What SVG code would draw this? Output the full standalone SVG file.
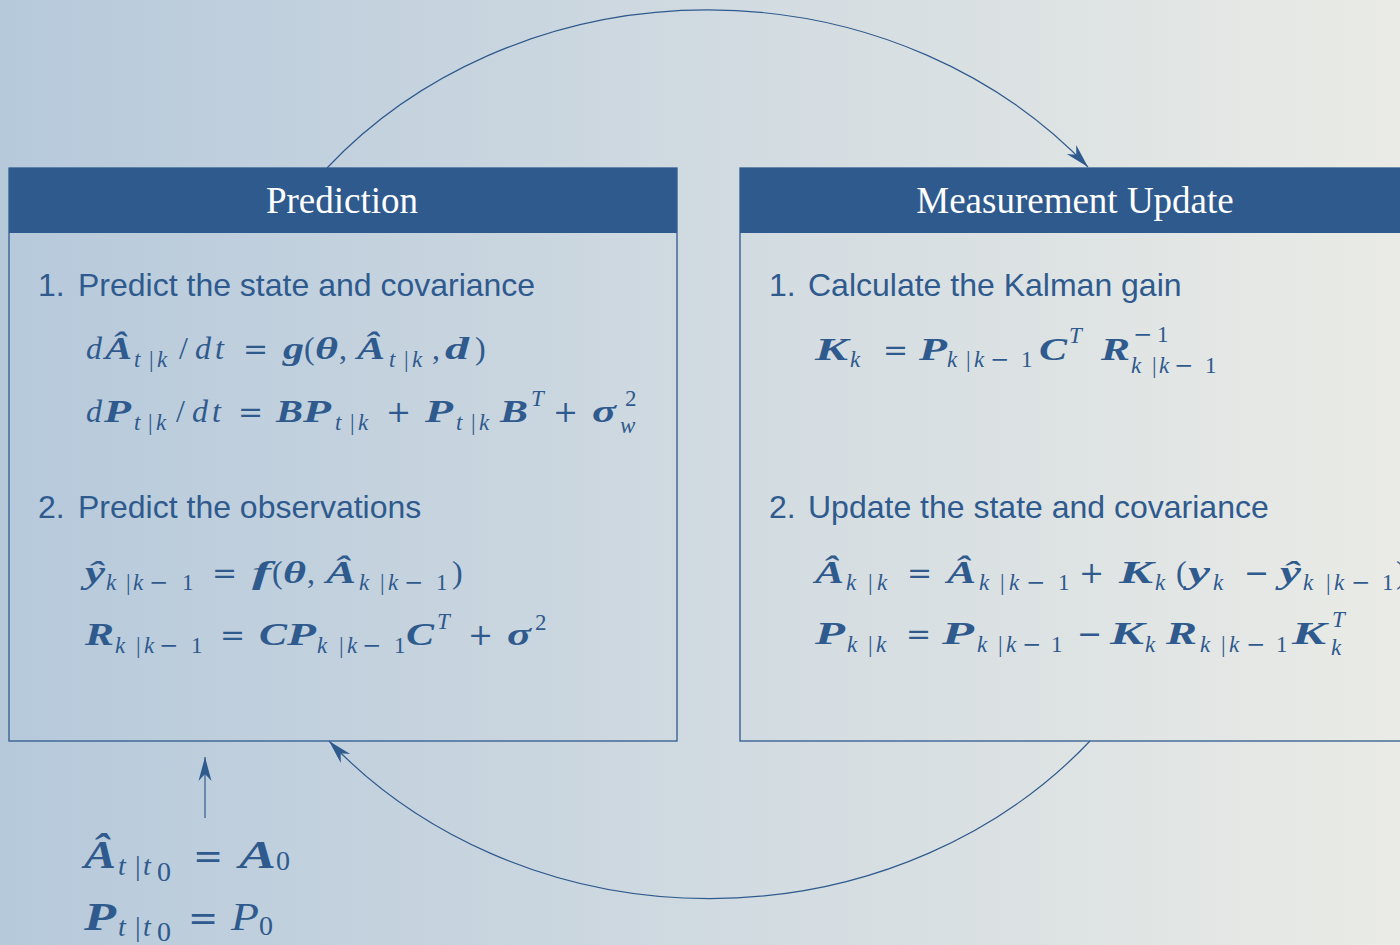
<svg xmlns="http://www.w3.org/2000/svg" width="1400" height="945" viewBox="0 0 1400 945">
<defs>
<linearGradient id="bg" x1="0" y1="0" x2="1" y2="0">
<stop offset="0" stop-color="#b6c9db"/>
<stop offset="1" stop-color="#eaebe6"/>
</linearGradient>
<marker id="arr" viewBox="-26 -8 28 16" refX="0" refY="0" markerWidth="28" markerHeight="16" markerUnits="userSpaceOnUse" orient="auto">
<path d="M0,0 L-24,-6.5 L-17,0 L-24,6.5 Z" fill="#2f5a8e"/>
</marker>
<style>
.box{fill:none;stroke:#2f5a8e;stroke-width:1.3}
.hdr{fill:#2f5a8e}
.ht{font-family:"Liberation Serif",serif;font-size:37px;fill:#ffffff;text-anchor:middle}
.lt{font-family:"Liberation Sans",Arial,sans-serif;font-size:32px;fill:#2f5a8e}
.m{font-family:"Liberation Serif",serif;font-size:32px;fill:#2f5a8e}
.mb{font-family:"Liberation Serif",serif;font-size:40px;fill:#2f5a8e}
.bi{font-weight:bold;font-style:italic}
.it{font-style:italic}
.s{font-size:23px}
.s2{font-size:28px}
.op{font-family:"DejaVu Serif",serif;font-size:30px}
.opb{font-family:"DejaVu Serif",serif;font-size:36px}
.so{font-family:"DejaVu Serif",serif;font-size:23px}
.con{fill:none;stroke:#2f5a8e;stroke-width:1.2;marker-end:url(#arr)}
</style>
</defs>
<rect x="0" y="0" width="1400" height="945" fill="url(#bg)"/>

<g id="connectors">
<path class="con" d="M 327 168 A 498 444 0 0 1 1088 167"/>
<path class="con" d="M 1090 741 A 498 444 0 0 1 329 741"/>
<path class="con" d="M 205 818 L 205 757"/>
</g>

<g id="node-prediction">
<rect class="box" x="9" y="168" width="668" height="573"/>
<rect class="hdr" x="9" y="168" width="668" height="65"/>
<text class="ht" x="342" y="213">Prediction</text>
<text class="lt" y="296"><tspan x="38">1.</tspan><tspan x="78">Predict the state and covariance</tspan></text>
<text class="m" y="359"><tspan class="it" x="86">d</tspan><tspan class="bi" x="105" textLength="27" lengthAdjust="spacingAndGlyphs">Â</tspan><tspan class="s it" x="134" y="367">t</tspan><tspan class="s" x="149" y="367">|</tspan><tspan class="s it" x="157" y="367">k</tspan><tspan x="179" y="359">/</tspan><tspan class="it" x="195">d</tspan><tspan class="it" x="215">t</tspan><tspan class="op" x="243">=</tspan><tspan class="bi" x="283" textLength="21" lengthAdjust="spacingAndGlyphs">g</tspan><tspan x="304">(</tspan><tspan class="bi" x="315" textLength="23" lengthAdjust="spacingAndGlyphs">θ</tspan><tspan x="339">,</tspan><tspan class="bi" x="357" textLength="28" lengthAdjust="spacingAndGlyphs">Â</tspan><tspan class="s it" x="389" y="367">t</tspan><tspan class="s" x="404" y="367">|</tspan><tspan class="s it" x="412" y="367">k</tspan><tspan x="432" y="359">,</tspan><tspan class="bi" x="445" textLength="24" lengthAdjust="spacingAndGlyphs">d</tspan><tspan x="475">)</tspan></text>
<text class="m" y="422"><tspan class="it" x="86">d</tspan><tspan class="bi" x="104" textLength="27" lengthAdjust="spacingAndGlyphs">P</tspan><tspan class="s it" x="134" y="430">t</tspan><tspan class="s" x="148" y="430">|</tspan><tspan class="s it" x="156" y="430">k</tspan><tspan x="176" y="422">/</tspan><tspan class="it" x="192">d</tspan><tspan class="it" x="212">t</tspan><tspan class="op" x="238">=</tspan><tspan class="bi" x="276" textLength="27" lengthAdjust="spacingAndGlyphs">B</tspan><tspan class="bi" x="303" textLength="28" lengthAdjust="spacingAndGlyphs">P</tspan><tspan class="s it" x="335" y="430">t</tspan><tspan class="s" x="350" y="430">|</tspan><tspan class="s it" x="358" y="430">k</tspan><tspan class="op" x="386" y="422">+</tspan><tspan class="bi" x="425" textLength="28" lengthAdjust="spacingAndGlyphs">P</tspan><tspan class="s it" x="456" y="430">t</tspan><tspan class="s" x="471" y="430">|</tspan><tspan class="s it" x="479" y="430">k</tspan><tspan class="bi" x="500" y="422" textLength="28" lengthAdjust="spacingAndGlyphs">B</tspan><tspan class="s it" x="531" y="406">T</tspan><tspan class="op" x="553" y="422">+</tspan><tspan class="bi" x="592" textLength="24" lengthAdjust="spacingAndGlyphs">σ</tspan><tspan class="s" x="625" y="406">2</tspan><tspan class="s it" x="620" y="433">w</tspan></text>
<text class="lt" y="518"><tspan x="38">2.</tspan><tspan x="78">Predict the observations</tspan></text>
<text class="m" y="583"><tspan class="bi" x="85" textLength="20" lengthAdjust="spacingAndGlyphs">ŷ</tspan><tspan class="s it" x="106" y="590">k</tspan><tspan class="s" x="126" y="590">|</tspan><tspan class="s it" x="133" y="590">k</tspan><tspan class="so" x="149" y="590">−</tspan><tspan class="s" x="182" y="590">1</tspan><tspan class="op" x="212" y="583">=</tspan><tspan class="bi" x="252" textLength="19" lengthAdjust="spacingAndGlyphs">f</tspan><tspan x="272">(</tspan><tspan class="bi" x="283" textLength="23" lengthAdjust="spacingAndGlyphs">θ</tspan><tspan x="307">,</tspan><tspan class="bi" x="326" textLength="30" lengthAdjust="spacingAndGlyphs">Â</tspan><tspan class="s it" x="359" y="590">k</tspan><tspan class="s" x="380" y="590">|</tspan><tspan class="s it" x="388" y="590">k</tspan><tspan class="so" x="404" y="590">−</tspan><tspan class="s" x="436" y="590">1</tspan><tspan x="452" y="583">)</tspan></text>
<text class="m" y="645"><tspan class="bi" x="85" textLength="29" lengthAdjust="spacingAndGlyphs">R</tspan><tspan class="s it" x="115" y="653">k</tspan><tspan class="s" x="136" y="653">|</tspan><tspan class="s it" x="144" y="653">k</tspan><tspan class="so" x="159" y="653">−</tspan><tspan class="s" x="191" y="653">1</tspan><tspan class="op" x="220" y="645">=</tspan><tspan class="bi" x="259" textLength="28" lengthAdjust="spacingAndGlyphs">C</tspan><tspan class="bi" x="287" textLength="29" lengthAdjust="spacingAndGlyphs">P</tspan><tspan class="s it" x="317" y="653">k</tspan><tspan class="s" x="339" y="653">|</tspan><tspan class="s it" x="347" y="653">k</tspan><tspan class="so" x="362" y="653">−</tspan><tspan class="s" x="394" y="653">1</tspan><tspan class="bi" x="406" y="645" textLength="28" lengthAdjust="spacingAndGlyphs">C</tspan><tspan class="s it" x="437" y="629">T</tspan><tspan class="op" x="468" y="645">+</tspan><tspan class="bi" x="507" textLength="24" lengthAdjust="spacingAndGlyphs">σ</tspan><tspan class="s" x="535" y="630">2</tspan></text>
</g>

<g id="node-update">
<rect class="box" x="740" y="168" width="668" height="573"/>
<rect class="hdr" x="740" y="168" width="668" height="65"/>
<text class="ht" x="1075" y="213">Measurement Update</text>
<text class="lt" y="296"><tspan x="769">1.</tspan><tspan x="808">Calculate the Kalman gain</tspan></text>
<text class="m" y="360"><tspan class="bi" x="815" textLength="33" lengthAdjust="spacingAndGlyphs">K</tspan><tspan class="s it" x="850" y="367">k</tspan><tspan class="op" x="883" y="360">=</tspan><tspan class="bi" x="919" textLength="28" lengthAdjust="spacingAndGlyphs">P</tspan><tspan class="s it" x="947" y="367">k</tspan><tspan class="s" x="966" y="367">|</tspan><tspan class="s it" x="974" y="367">k</tspan><tspan class="so" x="990" y="367">−</tspan><tspan class="s" x="1021" y="367">1</tspan><tspan class="bi" x="1039" y="360" textLength="28" lengthAdjust="spacingAndGlyphs">C</tspan><tspan class="s it" x="1069" y="343">T</tspan><tspan class="bi" x="1101" y="360" textLength="29" lengthAdjust="spacingAndGlyphs">R</tspan><tspan class="so" x="1133" y="342">−</tspan><tspan class="s" x="1157" y="342">1</tspan><tspan class="s it" x="1131" y="373">k</tspan><tspan class="s" x="1152" y="373">|</tspan><tspan class="s it" x="1159" y="373">k</tspan><tspan class="so" x="1174" y="373">−</tspan><tspan class="s" x="1205" y="373">1</tspan></text>
<text class="lt" y="518"><tspan x="769">2.</tspan><tspan x="808">Update the state and covariance</tspan></text>
<text class="m" y="583"><tspan class="bi" x="815" textLength="29" lengthAdjust="spacingAndGlyphs">Â</tspan><tspan class="s it" x="846" y="590">k</tspan><tspan class="s" x="868" y="590">|</tspan><tspan class="s it" x="877" y="590">k</tspan><tspan class="op" x="907" y="583">=</tspan><tspan class="bi" x="947" textLength="29" lengthAdjust="spacingAndGlyphs">Â</tspan><tspan class="s it" x="979" y="590">k</tspan><tspan class="s" x="1000" y="590">|</tspan><tspan class="s it" x="1009" y="590">k</tspan><tspan class="so" x="1026" y="590">−</tspan><tspan class="s" x="1058" y="590">1</tspan><tspan class="op" x="1079" y="583">+</tspan><tspan class="bi" x="1119" textLength="34" lengthAdjust="spacingAndGlyphs">K</tspan><tspan class="s it" x="1155" y="590">k</tspan><tspan x="1176" y="583">(</tspan><tspan class="bi" x="1188" textLength="22" lengthAdjust="spacingAndGlyphs">y</tspan><tspan class="s it" x="1213" y="590">k</tspan><tspan class="op" x="1244" y="583">−</tspan><tspan class="bi" x="1280" textLength="21" lengthAdjust="spacingAndGlyphs">ŷ</tspan><tspan class="s it" x="1303" y="590">k</tspan><tspan class="s" x="1326" y="590">|</tspan><tspan class="s it" x="1334" y="590">k</tspan><tspan class="so" x="1351" y="590">−</tspan><tspan class="s" x="1382" y="590">1</tspan><tspan x="1396" y="583">)</tspan></text>
<text class="m" y="644"><tspan class="bi" x="815" textLength="30" lengthAdjust="spacingAndGlyphs">P</tspan><tspan class="s it" x="847" y="652">k</tspan><tspan class="s" x="868" y="652">|</tspan><tspan class="s it" x="876" y="652">k</tspan><tspan class="op" x="906" y="644">=</tspan><tspan class="bi" x="942" textLength="32" lengthAdjust="spacingAndGlyphs">P</tspan><tspan class="s it" x="977" y="652">k</tspan><tspan class="s" x="998" y="652">|</tspan><tspan class="s it" x="1006" y="652">k</tspan><tspan class="so" x="1022" y="652">−</tspan><tspan class="s" x="1051" y="652">1</tspan><tspan class="op" x="1077" y="644">−</tspan><tspan class="bi" x="1110" textLength="34" lengthAdjust="spacingAndGlyphs">K</tspan><tspan class="s it" x="1145" y="652">k</tspan><tspan class="bi" x="1166" y="644" textLength="31" lengthAdjust="spacingAndGlyphs">R</tspan><tspan class="s it" x="1200" y="652">k</tspan><tspan class="s" x="1221" y="652">|</tspan><tspan class="s it" x="1229" y="652">k</tspan><tspan class="so" x="1246" y="652">−</tspan><tspan class="s" x="1276" y="652">1</tspan><tspan class="bi" x="1292" y="644" textLength="34" lengthAdjust="spacingAndGlyphs">K</tspan><tspan class="s it" x="1332" y="627">T</tspan><tspan class="s it" x="1331" y="655">k</tspan></text>
</g>

<g id="node-init">
<text class="mb" y="868"><tspan class="bi" x="84" textLength="32" lengthAdjust="spacingAndGlyphs">Â</tspan><tspan class="s2 it" x="118" y="875">t</tspan><tspan class="s2" x="135" y="875">|</tspan><tspan class="s2 it" x="143" y="875">t</tspan><tspan class="s2" x="157" y="881">0</tspan><tspan class="opb" x="193" y="868">=</tspan><tspan class="bi" x="239" textLength="37" lengthAdjust="spacingAndGlyphs">A</tspan><tspan class="s2" x="276" y="870">0</tspan></text>
<text class="mb" y="930"><tspan class="bi" x="84" textLength="32" lengthAdjust="spacingAndGlyphs">P</tspan><tspan class="s2 it" x="118" y="936">t</tspan><tspan class="s2" x="135" y="936">|</tspan><tspan class="s2 it" x="143" y="936">t</tspan><tspan class="s2" x="157" y="941">0</tspan><tspan class="opb" x="188" y="930">=</tspan><tspan class="it" x="231" textLength="28" lengthAdjust="spacingAndGlyphs">P</tspan><tspan class="s2" x="259" y="935">0</tspan></text>
</g>
</svg>
